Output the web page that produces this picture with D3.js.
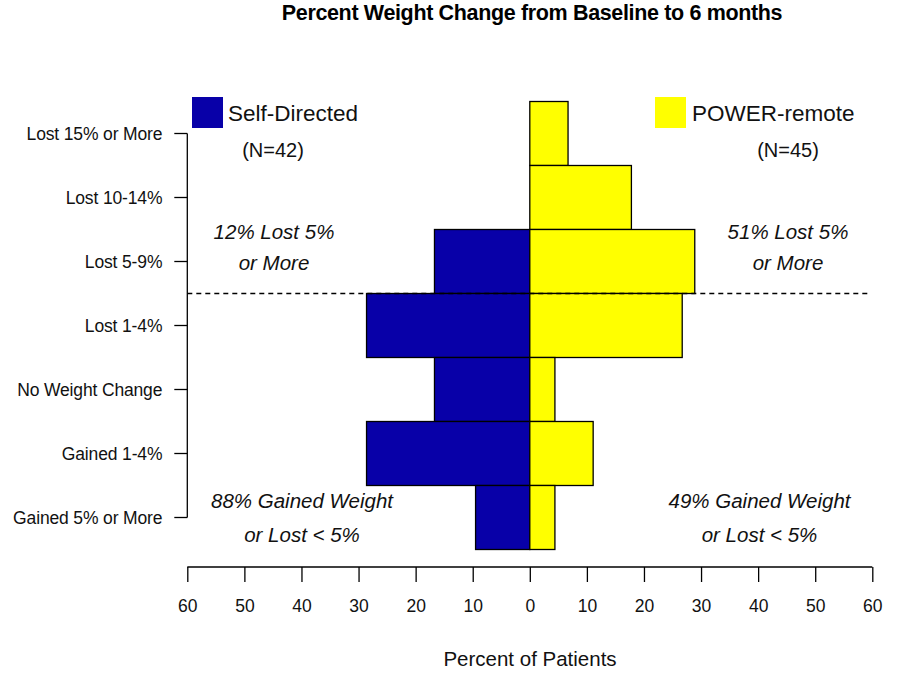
<!DOCTYPE html>
<html>
<head>
<meta charset="utf-8">
<script src="https://cdn.jsdelivr.net/npm/d3@7"></script>
<style>
  html, body { margin: 0; padding: 0; background: #fff; }
  svg { display: block; font-family: "Liberation Sans", Arial, sans-serif; }
</style>
</head>
<body>
<svg id="chart" width="900" height="681"></svg>
<script>
// ---- data ----
const categories = ["Lost 15% or More", "Lost 10-14%", "Lost 5-9%", "Lost 1-4%", "No Weight Change", "Gained 1-4%", "Gained 5% or More"];
const selfDirected = [0, 0, 16.7, 28.6, 16.7, 28.6, 9.5];      // percent, N=42
const powerRemote  = [6.7, 17.8, 28.9, 26.7, 4.4, 11.1, 4.4];  // percent, N=45
const xTicks = [-60, -50, -40, -30, -20, -10, 0, 10, 20, 30, 40, 50, 60];
const seriesNames = ["Self-Directed", "POWER-remote"];
const seriesN = ["(N=42)", "(N=45)"];
const colors = ["#0800a8", "#ffff00"];
const title = "Percent Weight Change from  Baseline to 6 months";
const xTitle = "Percent of Patients";
const annotations = [
  { side: "left",  row: "top",    lines: ["12% Lost 5%", "or More"] },
  { side: "right", row: "top",    lines: ["51% Lost 5%", "or More"] },
  { side: "left",  row: "bottom", lines: ["88% Gained Weight", "or Lost < 5%"] },
  { side: "right", row: "bottom", lines: ["49% Gained Weight", "or Lost < 5%"] }
];

const svg = d3.select("#chart");

const x = d3.scaleLinear().domain([-60, 60]).range([187.3, 872.3]);
const y = d3.scaleBand().domain(categories).range([101.5, 549.5]).padding(0);

// title
svg.append("text")
  .attr("x", 532).attr("y", 20)
  .attr("text-anchor", "middle")
  .attr("font-weight", "bold")
  .attr("font-size", 21.5)
  .attr("letter-spacing", "-0.35")
  .text(title);

// bars
const rows = categories.map((c, i) => ({ c, left: selfDirected[i], right: powerRemote[i] }));
const gBars = svg.append("g");
gBars.selectAll("rect.left").data(rows.filter(d => d.left > 0)).enter().append("rect")
  .attr("class", "left")
  .attr("x", d => x(-d.left)).attr("width", d => x(0) - x(-d.left))
  .attr("y", d => y(d.c)).attr("height", y.bandwidth())
  .attr("fill", colors[0]).attr("stroke", "#000").attr("stroke-width", 1.3);
gBars.selectAll("rect.right").data(rows.filter(d => d.right > 0)).enter().append("rect")
  .attr("class", "right")
  .attr("x", x(0)).attr("width", d => x(d.right) - x(0))
  .attr("y", d => y(d.c)).attr("height", y.bandwidth())
  .attr("fill", colors[1]).attr("stroke", "#000").attr("stroke-width", 1.3);

// dashed separator between "Lost 5-9%" and "Lost 1-4%"
svg.append("line")
  .attr("x1", x(-60)).attr("x2", 868)
  .attr("y1", y("Lost 1-4%")).attr("y2", y("Lost 1-4%"))
  .attr("stroke", "#000").attr("stroke-width", 1.5)
  .attr("stroke-dasharray", "5,4");

// y axis (R-style: line spans first to last tick)
const yAxisG = svg.append("g").attr("transform", `translate(${x(-60)},0)`);
const yc = c => y(c) + y.bandwidth() / 2;
yAxisG.append("line")
  .attr("x1", 0).attr("x2", 0)
  .attr("y1", yc(categories[0])).attr("y2", yc(categories[categories.length - 1]))
  .attr("stroke", "#000").attr("stroke-width", 1.3);
const yt = yAxisG.selectAll("g.tick").data(categories).enter().append("g")
  .attr("transform", d => `translate(0,${yc(d)})`);
yt.append("line").attr("x1", -13).attr("x2", 0).attr("stroke", "#000").attr("stroke-width", 1.3);
yt.append("text")
  .attr("x", -25).attr("dy", "0.35em")
  .attr("text-anchor", "end")
  .attr("font-size", 17.5)
  .attr("letter-spacing", "-0.15")
  .attr("fill", "#111")
  .text(d => d);

// x axis
const xAxis = d3.axisBottom(x).tickValues(xTicks).tickSize(15).tickPadding(18)
  .tickFormat(d => Math.abs(d));
const xg = svg.append("g").attr("transform", "translate(0,567)").call(xAxis);
xg.select(".domain").attr("stroke", "#000").attr("stroke-width", 1.3)
  .attr("d", `M${x(-60)},0H${x(60)}`);
xg.selectAll(".tick line").attr("stroke", "#000").attr("stroke-width", 1.3);
xg.selectAll(".tick text").attr("font-size", 17.5).attr("fill", "#111")
  .attr("font-family", "\"Liberation Sans\", Arial, sans-serif");

svg.append("text")
  .attr("x", 530).attr("y", 666)
  .attr("text-anchor", "middle")
  .attr("font-size", 20.5)
  .attr("fill", "#111")
  .text(xTitle);

// legend
const legend = [
  { sq: [192, 97], tx: 228, nx: 273, name: seriesNames[0], n: seriesN[0], color: colors[0] },
  { sq: [655, 97], tx: 692, nx: 788, name: seriesNames[1], n: seriesN[1], color: colors[1] }
];
legend.forEach(l => {
  svg.append("rect").attr("x", l.sq[0]).attr("y", l.sq[1]).attr("width", 31).attr("height", 31)
    .attr("fill", l.color);
  svg.append("text").attr("x", l.tx).attr("y", 121).attr("font-size", 22.5).attr("fill", "#111")
    .text(l.name);
  svg.append("text").attr("x", l.nx).attr("y", 157).attr("text-anchor", "middle")
    .attr("font-size", 20).attr("fill", "#111").text(l.n);
});

// annotations
const annX = { left: { top: 274, bottom: 302 }, right: { top: 788, bottom: 759.5 } };
const annY = { top: [239, 270], bottom: [508, 542] };
annotations.forEach(a => {
  a.lines.forEach((ln, i) => {
    svg.append("text")
      .attr("x", annX[a.side][a.row]).attr("y", annY[a.row][i])
      .attr("text-anchor", "middle")
      .attr("font-style", "italic")
      .attr("font-size", 20.5)
      .attr("fill", "#111")
      .text(ln);
  });
});
</script>
</body>
</html>
